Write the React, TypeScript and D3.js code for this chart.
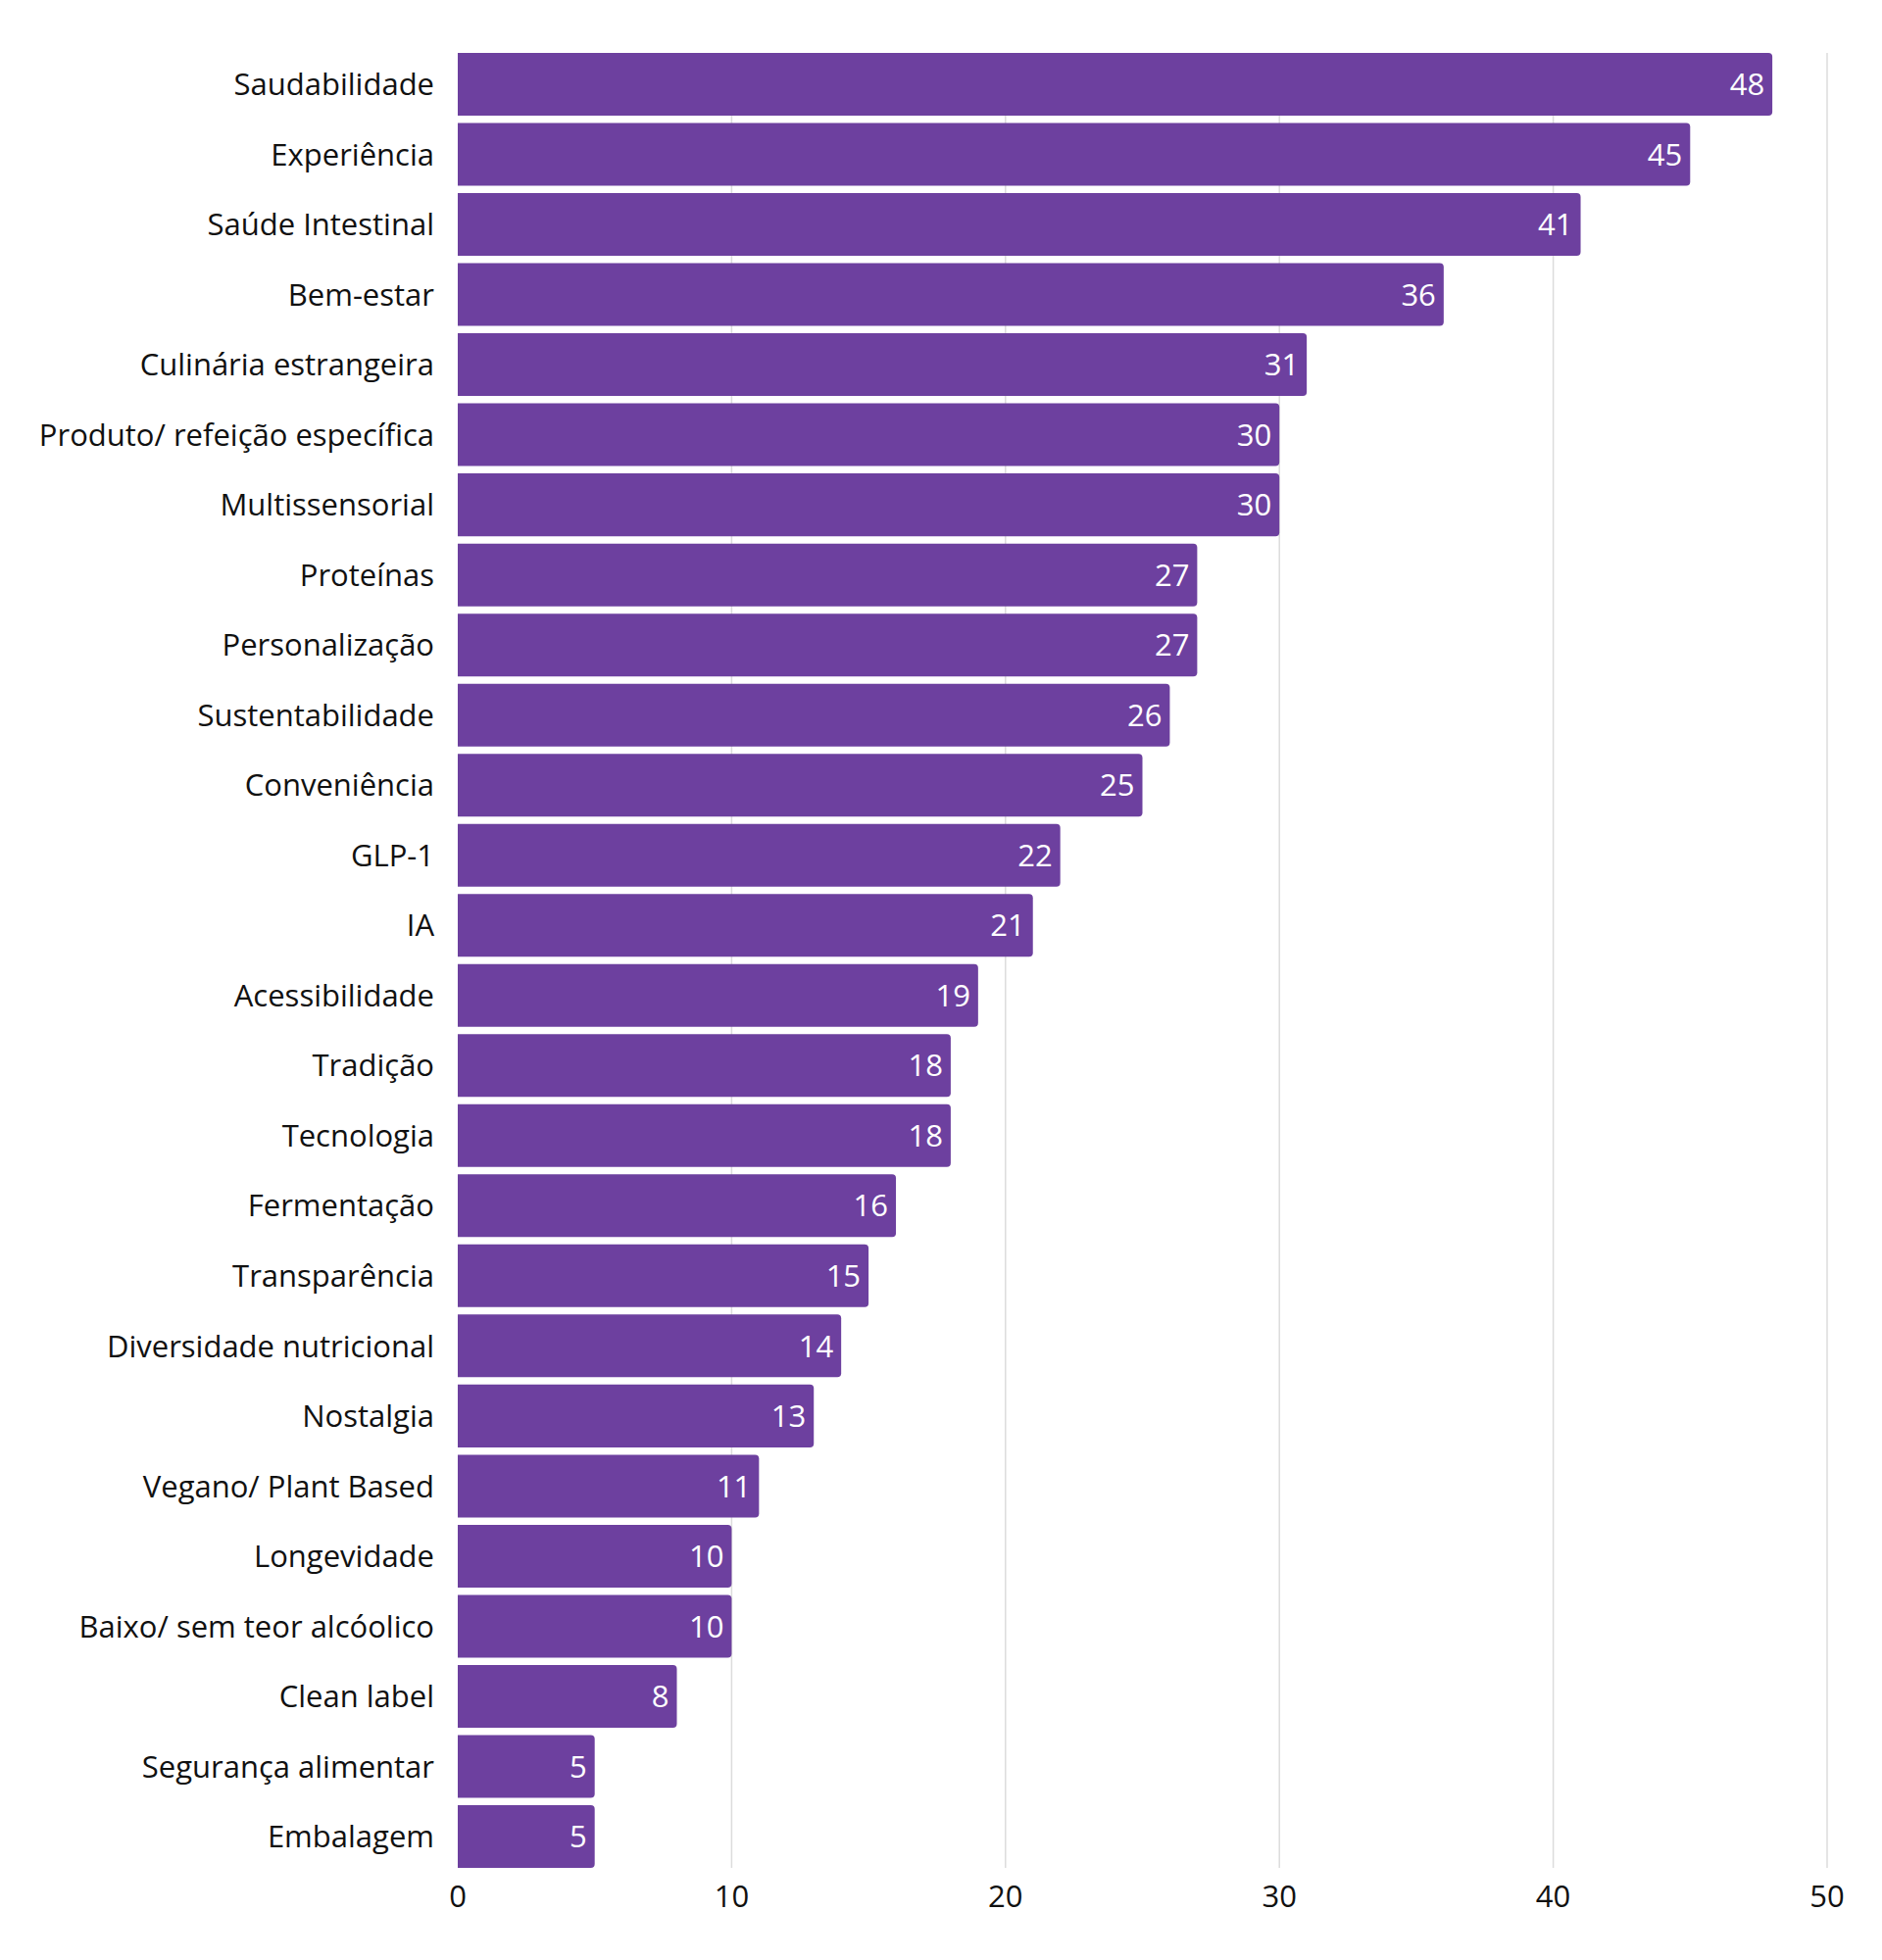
import { useEffect, useRef } from 'react'
import * as d3 from 'd3'

const categories = [
  'Saudabilidade',
  'Experiência',
  'Saúde Intestinal',
  'Bem-estar',
  'Culinária estrangeira',
  'Produto/ refeição específica',
  'Multissensorial',
  'Proteínas',
  'Personalização',
  'Sustentabilidade',
  'Conveniência',
  'GLP-1',
  'IA',
  'Acessibilidade',
  'Tradição',
  'Tecnologia',
  'Fermentação',
  'Transparência',
  'Diversidade nutricional',
  'Nostalgia',
  'Vegano/ Plant Based',
  'Longevidade',
  'Baixo/ sem teor alcóolico',
  'Clean label',
  'Segurança alimentar',
  'Embalagem',
]

const values = [48, 45, 41, 36, 31, 30, 30, 27, 27, 26, 25, 22, 21, 19, 18, 18, 16, 15, 14, 13, 11, 10, 10, 8, 5, 5]

const xTicks = [0, 10, 20, 30, 40, 50]

const WIDTH = 1920
const HEIGHT = 2000
const FONT = '"Open Sans", Lato, sans-serif'
const BAR = '#6d409f'

export default function App() {
  const svgRef = useRef<SVGSVGElement>(null)

  useEffect(() => {
    if (!svgRef.current) return
    const svg = d3.select(svgRef.current)
    svg.selectAll('*').remove()

    const margin = { top: 54, right: 56, bottom: 94, left: 467 }
    const x = d3.scaleLinear().domain([0, 50]).range([margin.left, WIDTH - margin.right])
    const y = d3
      .scaleBand<string>()
      .domain(categories)
      .range([margin.top, HEIGHT - margin.bottom])
      .paddingInner(0.105)
      .paddingOuter(0)

    const data = categories.map((c, i) => ({ name: c, value: values[i] }))

    // gridlines
    svg
      .append('g')
      .selectAll('line')
      .data(xTicks.filter((t) => t > 0))
      .enter()
      .append('line')
      .attr('x1', (d) => x(d))
      .attr('x2', (d) => x(d))
      .attr('y1', margin.top)
      .attr('y2', HEIGHT - margin.bottom)
      .attr('stroke', '#dcdcdc')
      .attr('stroke-width', 1.5)

    // bars with rounded right corners
    const r = 4
    const barPath = (d: { name: string; value: number }) => {
      const x0 = x(0)
      const x1 = x(d.value)
      const y0 = y(d.name)!
      const h = y.bandwidth()
      const p = d3.path()
      p.moveTo(x0, y0)
      p.lineTo(x1 - r, y0)
      p.quadraticCurveTo(x1, y0, x1, y0 + r)
      p.lineTo(x1, y0 + h - r)
      p.quadraticCurveTo(x1, y0 + h, x1 - r, y0 + h)
      p.lineTo(x0, y0 + h)
      p.closePath()
      return p.toString()
    }

    svg
      .append('g')
      .selectAll('path')
      .data(data)
      .enter()
      .append('path')
      .attr('d', barPath)
      .attr('fill', BAR)

    // value labels
    svg
      .append('g')
      .selectAll('text')
      .data(data)
      .enter()
      .append('text')
      .attr('x', (d) => x(d.value) - 8)
      .attr('y', (d) => y(d.name)! + y.bandwidth() / 2)
      .attr('dy', '0.36em')
      .attr('text-anchor', 'end')
      .attr('fill', '#ffffff')
      .style('font-family', FONT)
      .style('font-size', '31px')
      .text((d) => d.value)

    // category labels
    svg
      .append('g')
      .selectAll('text')
      .data(categories)
      .enter()
      .append('text')
      .attr('x', margin.left - 24)
      .attr('y', (d) => y(d)! + y.bandwidth() / 2)
      .attr('dy', '0.36em')
      .attr('text-anchor', 'end')
      .attr('fill', '#111111')
      .style('font-family', FONT)
      .style('font-size', '31px')
      .text((d) => d)

    // x tick labels
    svg
      .append('g')
      .selectAll('text')
      .data(xTicks)
      .enter()
      .append('text')
      .attr('x', (d) => x(d))
      .attr('y', HEIGHT - margin.bottom + 40)
      .attr('text-anchor', 'middle')
      .attr('fill', '#111111')
      .style('font-family', FONT)
      .style('font-size', '31px')
      .text((d) => d)
  }, [])

  return (
    <svg
      ref={svgRef}
      width={WIDTH}
      height={HEIGHT}
      style={{ position: 'absolute', left: 0, top: 0, background: '#ffffff' }}
    />
  )
}
